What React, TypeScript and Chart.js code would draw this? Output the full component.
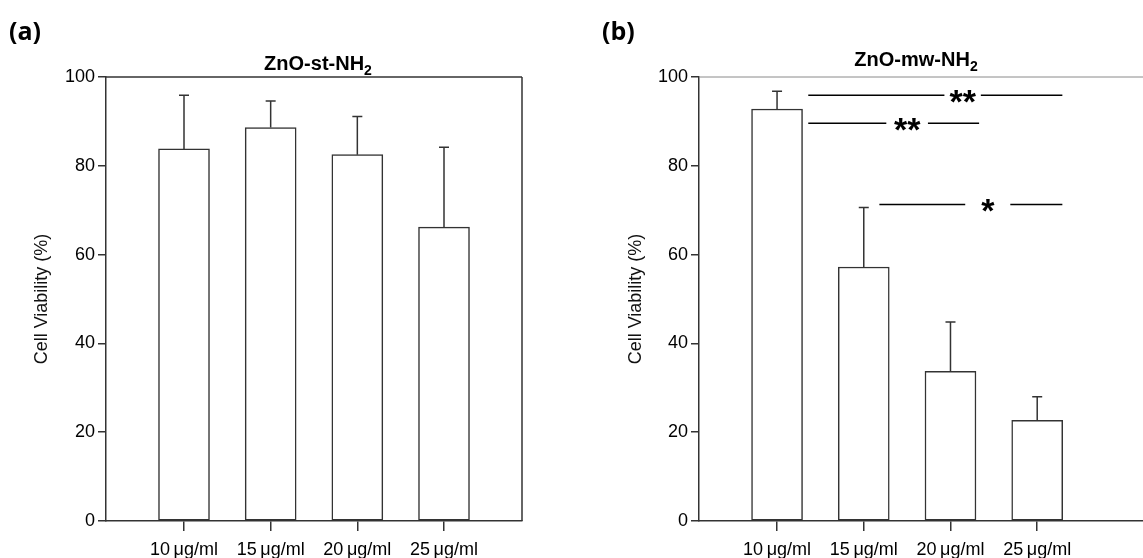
import React, { useEffect, useRef } from "react";
import { Chart, registerables } from "chart.js";

Chart.register(...registerables);

// ---------- data ----------
const categories = ["10\u2009\u03bcg/ml", "15\u2009\u03bcg/ml", "20\u2009\u03bcg/ml", "25\u2009\u03bcg/ml"];
const categoryIndex = [0, 1, 2, 3];
const yTicks = [0, 20, 40, 60, 80, 100];

const stMeans = [83.8, 88.6, 82.5, 66.2];
const stErrors = [12.1, 6.0, 8.6, 18.0];

const mwMeans = [92.8, 57.2, 33.7, 22.7];
const mwErrors = [4.0, 13.4, 11.1, 5.3];

// significance brackets for panel (b), in data units
const mwSigLevel = [95.9, 89.6, 71.3];
const mwSigFrom = [0.36, 0.36, 1.18];
const mwSigTo = [3.29, 2.33, 3.29];
const mwSigGapStart = [1.93, 1.26, 2.17];
const mwSigGapEnd = [2.35, 1.74, 2.69];
const mwSigMark = ["**", "**", "*"];

const FONT = "'Liberation Sans', Arial, Helvetica, sans-serif";
const AXIS = "#333";

type PanelCfg = {
  tag: string;
  title: string;
  means: number[];
  errors: number[];
  xMax: number;
  yAxisWidth: number;
  rightPad: number;
  titlePad: number;
  titleCx: number;
  titleBase: number;
  tagX: number;
  rightBorder: boolean;
  topColor: string;
  topWidth: number;
  sig?: boolean;
};

function makePlugin(cfg: PanelCfg) {
  return {
    id: "panelDecor" + cfg.tag,
    afterDatasetsDraw(chart: any) {
      const { ctx, chartArea: ca, scales } = chart;
      const xs = scales.x;
      const ys = scales.y;
      ctx.save();
      // error bars (upper only)
      const meta = chart.getDatasetMeta(0);
      meta.data.forEach((bar: any, i: number) => {
        const top = ys.getPixelForValue(cfg.means[i] + cfg.errors[i]);
        ctx.strokeStyle = AXIS;
        ctx.lineWidth = 1.5;
        ctx.beginPath();
        ctx.moveTo(bar.x, bar.y);
        ctx.lineTo(bar.x, top);
        ctx.moveTo(bar.x - 5, top);
        ctx.lineTo(bar.x + 5, top);
        ctx.stroke();
      });
      // frame
      ctx.strokeStyle = cfg.topColor;
      ctx.lineWidth = cfg.topWidth;
      ctx.beginPath();
      ctx.moveTo(ca.left, ca.top);
      ctx.lineTo(ca.right, ca.top);
      ctx.stroke();
      if (cfg.rightBorder) {
        ctx.strokeStyle = AXIS;
        ctx.lineWidth = 1.5;
        ctx.beginPath();
        ctx.moveTo(ca.right, ca.top);
        ctx.lineTo(ca.right, ca.bottom);
        ctx.stroke();
      }
      // significance
      if (cfg.sig) {
        ctx.font = `bold 34px ${FONT}`;
        ctx.fillStyle = "#000";
        ctx.textAlign = "center";
        ctx.textBaseline = "alphabetic";
        mwSigLevel.forEach((lv, i) => {
          const yy = ys.getPixelForValue(lv);
          ctx.strokeStyle = "#000";
          ctx.lineWidth = 1.5;
          ctx.beginPath();
          ctx.moveTo(xs.getPixelForValue(mwSigFrom[i]), yy);
          ctx.lineTo(xs.getPixelForValue(mwSigGapStart[i]), yy);
          ctx.moveTo(xs.getPixelForValue(mwSigGapEnd[i]), yy);
          ctx.lineTo(xs.getPixelForValue(mwSigTo[i]), yy);
          ctx.stroke();
          const cx = (xs.getPixelForValue(mwSigGapStart[i]) + xs.getPixelForValue(mwSigGapEnd[i])) / 2;
          const m = ctx.measureText(mwSigMark[i]);
          const base = yy + 1 - (m.actualBoundingBoxDescent - m.actualBoundingBoxAscent) / 2;
          ctx.fillText(mwSigMark[i], cx, base);
        });
      }
      ctx.restore();
    },
    afterDraw(chart: any) {
      const { ctx } = chart;
      ctx.save();
      ctx.fillStyle = "#000";
      ctx.textBaseline = "alphabetic";
      // panel tag
      ctx.font = `bold 25px 'Open Sans', 'Noto Sans', sans-serif`;
      ctx.textAlign = "left";
      ctx.fillText(cfg.tag, cfg.tagX, 40);
      // title with subscript
      ctx.font = `bold 20px ${FONT}`;
      const wMain = ctx.measureText(cfg.title).width;
      ctx.font = `bold 14px ${FONT}`;
      const wSub = ctx.measureText("2").width;
      const start = cfg.titleCx - (wMain + wSub) / 2;
      ctx.font = `bold 20px ${FONT}`;
      ctx.fillText(cfg.title, start, cfg.titleBase);
      ctx.font = `bold 14px ${FONT}`;
      ctx.fillText("2", start + wMain, cfg.titleBase + 5);
      ctx.restore();
    },
  };
}

function Panel({ cfg, left, width }: { cfg: PanelCfg; left: number; width: number }) {
  const ref = useRef<HTMLCanvasElement>(null);
  useEffect(() => {
    if (!ref.current) return;
    const chart = new Chart(ref.current, {
      type: "bar",
      data: {
        datasets: [
          {
            data: categoryIndex.map((c, i) => ({ x: c, y: cfg.means[i] })),
            backgroundColor: "#fff",
            borderColor: AXIS,
            borderWidth: 1.5,
            borderSkipped: false,
            barThickness: 51,
          },
        ],
      },
      options: {
        responsive: false,
        animation: false,
        events: [],
        layout: { padding: { left: 0, top: 77, right: cfg.rightPad, bottom: 0 } },
        plugins: { legend: { display: false }, tooltip: { enabled: false }, title: { display: false } },
        scales: {
          x: {
            type: "linear",
            min: -0.9,
            max: cfg.xMax,
            offset: false,
            grid: { display: true, offset: false, drawOnChartArea: false, drawTicks: true, tickLength: 10, color: AXIS, lineWidth: 1.5 },
            border: { display: true, color: AXIS, width: 1.5 },
            afterBuildTicks: (s: any) => {
              s.ticks = categoryIndex.map((v) => ({ value: v }));
            },
            afterFit: (s: any) => {
              s.height = 37;
            },
            ticks: {
              autoSkip: false,
              maxRotation: 0,
              padding: 8,
              color: "#000",
              font: { family: FONT, size: 18 },
              callback: (v: any) => categories[v as number] ?? "",
            },
          },
          y: {
            type: "linear",
            min: 0,
            max: 100,
            grid: { display: true, drawOnChartArea: false, drawTicks: true, tickLength: 8, color: AXIS, lineWidth: 1.5 },
            border: { display: true, color: AXIS, width: 1.5 },
            afterBuildTicks: (s: any) => {
              s.ticks = yTicks.map((v) => ({ value: v }));
            },
            afterFit: (s: any) => {
              s.width = cfg.yAxisWidth;
            },
            ticks: { padding: 3, color: "#000", font: { family: FONT, size: 18 } },
            title: {
              display: true,
              text: "Cell Viability (%)",
              color: "#111",
              font: { family: FONT, size: 18 },
              padding: { top: cfg.titlePad, bottom: 0 },
            },
          },
        },
      },
      plugins: [makePlugin(cfg)],
    } as any);
    return () => chart.destroy();
  }, [cfg]);
  return (
    <canvas
      ref={ref}
      width={width}
      height={558}
      style={{ position: "absolute", left, top: 0, width, height: 558 }}
    />
  );
}

const cfgA: PanelCfg = {
  tag: "(a)",
  title: "ZnO-st-NH",
  means: stMeans,
  errors: stErrors,
  xMax: 3.9,
  yAxisWidth: 106,
  rightPad: 38,
  titlePad: 31,
  titleCx: 318,
  titleBase: 70,
  tagX: 9,
  rightBorder: true,
  topColor: AXIS,
  topWidth: 1.5,
};

const cfgB: PanelCfg = {
  tag: "(b)",
  title: "ZnO-mw-NH",
  means: mwMeans,
  errors: mwErrors,
  xMax: 4.22,
  yAxisWidth: 119,
  rightPad: 0,
  titlePad: 45,
  titleCx: 336,
  titleBase: 66,
  tagX: 22,
  rightBorder: false,
  topColor: "#8a8a8a",
  topWidth: 1,
  sig: true,
};

export default function App() {
  return (
    <div
      style={{
        position: "absolute",
        left: 0,
        top: 0,
        width: 1143,
        height: 558,
        background: "#fff",
        overflow: "hidden",
      }}
    >
      <Panel cfg={cfgA} left={0} width={560} />
      <Panel cfg={cfgB} left={580} width={563} />
    </div>
  );
}
